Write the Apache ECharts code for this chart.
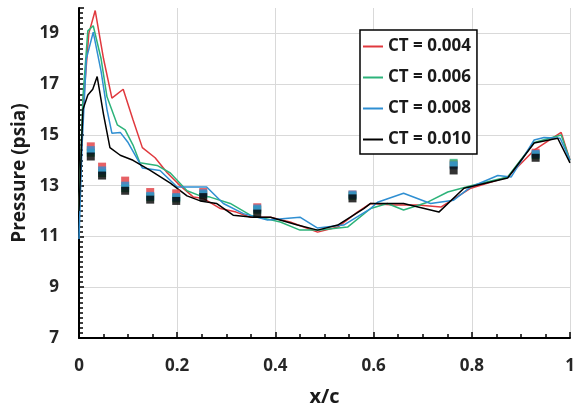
<!DOCTYPE html>
<html>
<head>
<meta charset="utf-8">
<script src="https://cdn.jsdelivr.net/npm/echarts@6/dist/echarts.min.js"></script>
<style>html,body{margin:0;padding:0;background:#fff;}#c{width:573px;height:409px;}</style>
</head>
<body>
<div id="c"></div>
<script>
var seriesNames = ['CT = 0.004', 'CT = 0.006', 'CT = 0.008', 'CT = 0.010'];
var xTickLabels = ['0', '0.2', '0.4', '0.6', '0.8', '1'];
var yTickLabels = ['7', '9', '11', '13', '15', '17', '19'];

var redX = [0, 0.008, 0.02, 0.033, 0.05, 0.067, 0.09, 0.11, 0.129, 0.155, 0.18, 0.206, 0.233, 0.253, 0.288, 0.32, 0.349, 0.39, 0.43, 0.486, 0.527, 0.567, 0.594, 0.641, 0.69, 0.737, 0.798, 0.873, 0.927, 0.982, 1.0];
var redY = [12.0, 16.0, 19.0, 19.9, 18.0, 16.45, 16.8, 15.6, 14.5, 14.1, 13.5, 13.0, 12.55, 12.5, 12.1, 11.96, 11.76, 11.76, 11.57, 11.17, 11.37, 11.96, 12.3, 12.24, 12.24, 12.16, 12.9, 13.34, 14.4, 15.1, 14.0];

var greenX = [0, 0.008, 0.018, 0.029, 0.045, 0.057, 0.078, 0.094, 0.11, 0.124, 0.159, 0.186, 0.22, 0.247, 0.267, 0.308, 0.349, 0.41, 0.45, 0.49, 0.547, 0.594, 0.628, 0.661, 0.71, 0.751, 0.798, 0.873, 0.927, 0.982, 1.0];
var greenY = [12.0, 16.5, 19.1, 19.3, 18.0, 16.5, 15.4, 15.2, 14.6, 13.9, 13.8, 13.5, 12.8, 12.6, 12.55, 12.3, 11.84, 11.57, 11.25, 11.25, 11.37, 12.1, 12.3, 12.04, 12.35, 12.75, 13.0, 13.34, 14.7, 15.0, 14.0];

var blueX = [0, 0.006, 0.015, 0.029, 0.045, 0.057, 0.067, 0.084, 0.1, 0.129, 0.165, 0.2, 0.23, 0.26, 0.294, 0.335, 0.384, 0.45, 0.486, 0.539, 0.594, 0.608, 0.661, 0.716, 0.763, 0.798, 0.853, 0.88, 0.927, 0.947, 0.98, 1.0];
var blueY = [10.9, 14.5, 18.0, 19.05, 17.5, 16.0, 15.07, 15.1, 14.7, 13.7, 13.6, 12.95, 12.95, 12.95, 12.3, 11.9, 11.65, 11.76, 11.33, 11.45, 12.1, 12.35, 12.7, 12.3, 12.43, 12.95, 13.4, 13.34, 14.8, 14.9, 14.87, 14.0];

var blackX = [0, 0.008, 0.018, 0.028, 0.037, 0.05, 0.063, 0.084, 0.11, 0.145, 0.186, 0.22, 0.247, 0.28, 0.314, 0.355, 0.39, 0.445, 0.486, 0.527, 0.58, 0.594, 0.661, 0.733, 0.784, 0.873, 0.927, 0.975, 1.0];
var blackY = [12.0, 16.0, 16.57, 16.8, 17.3, 15.8, 14.5, 14.2, 14.0, 13.6, 13.1, 12.6, 12.4, 12.3, 11.84, 11.76, 11.76, 11.45, 11.25, 11.45, 12.1, 12.3, 12.3, 11.96, 12.9, 13.3, 14.68, 14.87, 13.9];

var expX = [0.024, 0.047, 0.094, 0.145, 0.198, 0.253, 0.363, 0.557, 0.763, 0.93];
var expRed = [14.55, 13.75, 13.2, 12.75, 12.7, 12.75, 12.15, 12.65, 13.85, 14.3];
var expGreen = [14.3, 13.5, 12.9, 12.55, 12.5, 12.65, 12.05, 12.6, 13.9, 14.2];
var expBlue = [14.4, 13.6, 13.0, 12.6, 12.55, 12.7, 12.1, 12.65, 13.8, 14.25];
var expBlack = [14.15, 13.4, 12.8, 12.45, 12.4, 12.55, 11.9, 12.5, 13.6, 14.1];

var colors = ['#e0393e', '#2db37a', '#2f8fd2', '#000000'];

function pairs(xs, ys) { return xs.map(function (x, i) { return [x, ys[i]]; }); }

var lineData = [pairs(redX, redY), pairs(greenX, greenY), pairs(blueX, blueY), pairs(blackX, blackY)];
var expData = [pairs(expX, expRed), pairs(expX, expGreen), pairs(expX, expBlue), pairs(expX, expBlack)];

var FONT = 'Open Sans';
var series = [];
for (var i = 0; i < 4; i++) {
  series.push({
    name: 'exp' + i, type: 'scatter', data: expData[i], symbol: 'rect', symbolSize: 8,
    itemStyle: { color: colors[i] }, z: 3, silent: true
  });
}
for (var j = 0; j < 4; j++) {
  series.push({
    name: seriesNames[j], type: 'line', data: lineData[j], symbol: 'none', smooth: false,
    lineStyle: { color: colors[j], width: 1.5 }, itemStyle: { color: colors[j] }, z: 2 + j * 0.1
  });
}

var chart = echarts.init(document.getElementById('c'), null, { renderer: 'canvas' });
chart.setOption({
  animation: false,
  backgroundColor: '#ffffff',
  grid: { left: 79, right: 3, top: 8, bottom: 71, containLabel: false, outerBoundsMode: 'none' },
  legend: {
    data: seriesNames, orient: 'vertical', left: 360, top: 30,
    padding: [8, 6, 6, 2], itemGap: 14, itemWidth: 20, itemHeight: 16, itemTextGap: 3,
    itemStyle: { opacity: 0 },
    backgroundColor: '#ffffff', borderColor: '#000', borderWidth: 1.5,
    textStyle: { fontFamily: FONT, fontWeight: 'bold', fontSize: 17, color: '#1a1a1a' }
  },
  xAxis: {
    type: 'value', min: 0, max: 1, interval: 0.2,
    name: 'x/c', nameLocation: 'middle', nameGap: 49,
    nameTextStyle: { fontFamily: FONT, fontWeight: 'bold', fontSize: 20, color: '#1a1a1a' },
    axisLine: { show: true, onZero: false, lineStyle: { color: '#000', width: 2 } },
    axisTick: { show: true, inside: true, length: 6, lineStyle: { color: '#000', width: 1.5 } },
    minorTick: { show: true, splitNumber: 4, length: 4, lineStyle: { color: '#000', width: 1.5 } },
    axisLabel: {
      fontFamily: FONT, fontWeight: 'bold', fontSize: 17, color: '#262626', margin: 20,
      formatter: function (v) { var k = Math.round(v / 0.2); return xTickLabels[k] !== undefined ? xTickLabels[k] : ''; }
    },
    splitLine: { show: true, lineStyle: { color: '#d9d9d9', width: 1 } }
  },
  yAxis: {
    type: 'value', min: 7, max: 20, interval: 2,
    name: 'Pressure (psia)', nameLocation: 'middle', nameGap: 50, nameRotate: 90,
    nameTextStyle: { fontFamily: FONT, fontWeight: 'bold', fontSize: 19, color: '#1a1a1a' },
    axisLine: { show: true, onZero: false, lineStyle: { color: '#000', width: 2 } },
    axisTick: { show: true, inside: true, length: 5, lineStyle: { color: '#000', width: 1.5 } },
    minorTick: { show: true, splitNumber: 10, length: 4, lineStyle: { color: '#000', width: 1.5 } },
    axisLabel: {
      fontFamily: FONT, fontWeight: 'bold', fontSize: 17, color: '#262626', margin: 20,
      showMaxLabel: false,
      formatter: function (v) { var k = Math.round((v - 7) / 2); return (Math.abs(v - (7 + 2 * k)) < 1e-6 && yTickLabels[k] !== undefined) ? yTickLabels[k] : ''; }
    },
    splitLine: { show: true, showMaxLine: false, lineStyle: { color: '#d9d9d9', width: 1 } }
  },
  series: series
});
</script>
</body>
</html>
